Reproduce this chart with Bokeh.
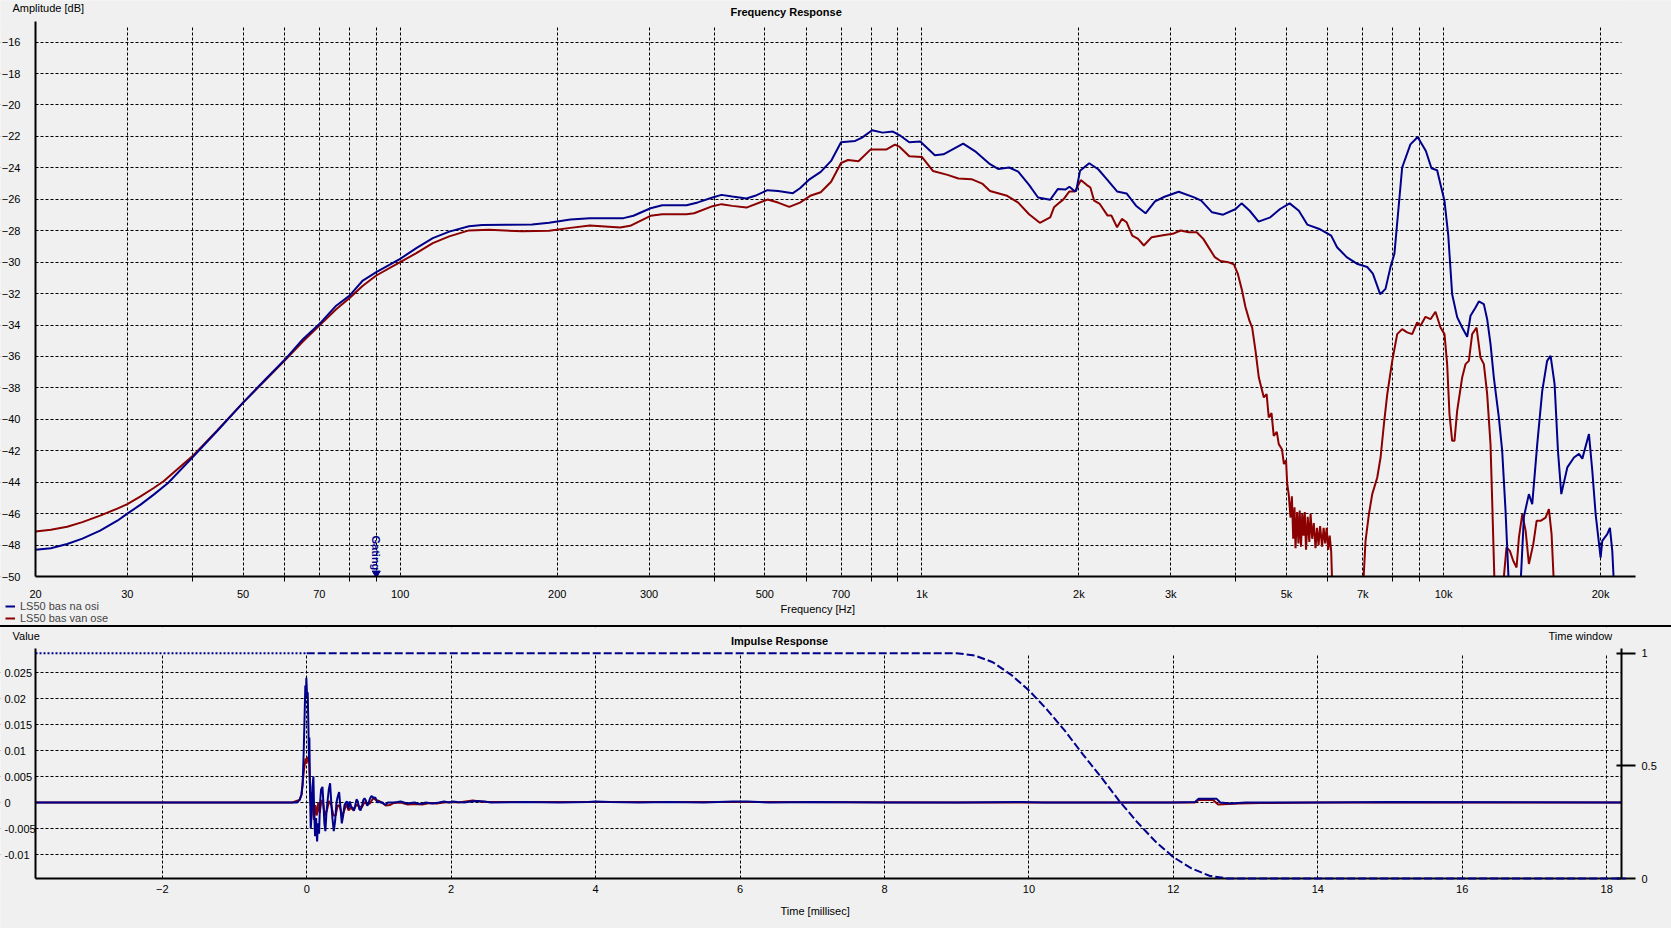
import math
from bokeh.plotting import figure
from bokeh.layouts import column
from bokeh.models import (Range1d, LinearAxis, FixedTicker, Label, Legend, LegendItem,
                          Spacer, CustomJSTickFormatter, BoxAnnotation)
from bokeh.embed import file_html
from bokeh.resources import INLINE

# ---------------- data ----------------
# Frequency response, (Hz, dB)
fr_blue = [
    (20, -48.3), (21.4, -48.2), (23, -47.93), (24.6, -47.59), (26.6, -47.08), (28.7, -46.45),
    (30, -46.0), (31.8, -45.43), (33.7, -44.79), (35.9, -44.05), (40, -42.42), (44.6, -40.74),
    (50, -38.94), (55.2, -37.45), (60, -36.23), (65.1, -34.9), (70, -33.94), (75.4, -32.77),
    (80, -32.13), (84.8, -31.17), (90, -30.64), (100, -29.79), (107.4, -29.11), (115.5, -28.47),
    (124.2, -28.06), (135.5, -27.72), (143.7, -27.64), (160, -27.62), (179, -27.6), (193, -27.5),
    (212, -27.29), (231, -27.2), (268, -27.2), (280, -27.05), (302, -26.57), (318, -26.38),
    (354, -26.38), (372, -26.2), (397, -25.89), (413, -25.72), (433, -25.83), (461, -25.95),
    (479, -25.78), (506, -25.42), (530, -25.47), (566, -25.61), (584, -25.3), (607, -24.77),
    (640, -24.26), (670, -23.56), (700, -22.37), (745, -22.29), (768, -22.08), (803, -21.61),
    (841, -21.76), (880, -21.69), (907, -21.93), (946, -22.37), (993, -22.33), (1059, -23.2),
    (1100, -23.14), (1200, -22.46), (1270, -22.99), (1351, -23.77), (1400, -24.07), (1471, -23.98),
    (1530, -24.24), (1605, -25.08), (1670, -25.89), (1762, -26.03), (1822, -25.35), (1885, -25.38),
    (1918, -25.2), (1958, -25.46), (1976, -25.47), (2010, -24.19), (2093, -23.71), (2178, -24.09),
    (2270, -24.78), (2367, -25.5), (2468, -25.63), (2573, -26.41), (2684, -26.89), (2798, -26.13),
    (2918, -25.84), (3107, -25.52), (3326, -25.88), (3432, -26.09), (3600, -26.83), (3780, -26.98),
    (3995, -26.62), (4100, -26.26), (4250, -26.73), (4420, -27.42), (4655, -27.15), (4860, -26.62),
    (5070, -26.26), (5280, -26.73), (5480, -27.61), (5780, -27.89), (6090, -28.31), (6250, -29.05),
    (6520, -29.68), (6820, -30.1), (7140, -30.31), (7320, -30.73), (7560, -32.04), (7740, -31.7),
    (7913, -30.3), (8050, -29.47), (8330, -23.98), (8640, -22.51), (8920, -22.04), (9250, -22.93),
    (9480, -24.03), (9720, -24.15), (10040, -26.09), (10210, -28.3), (10387, -32.04), (10619, -33.5),
    (10856, -34.16), (11099, -34.75), (11264, -33.41), (11516, -32.88), (11684, -32.5), (11946, -32.67),
    (12123, -33.63), (12303, -35.2), (12485, -37.34), (12764, -39.88), (12953, -42.0), (13146, -45.8),
    (13440, -53.0), (13900, -53.0), (14048, -50.5), (14256, -46.2), (14574, -44.76), (14790, -45.4),
    (15121, -41.58), (15459, -38.19), (15794, -36.28), (16040, -35.96), (16325, -37.76), (16568, -42.0),
    (16815, -44.76), (17267, -43.06), (17783, -42.43), (18180, -42.2), (18450, -42.5), (18998, -40.94),
    (19280, -43.27), (19566, -46.03), (20000, -48.8), (20148, -47.73), (20596, -47.3), (20840, -46.9),
    (21057, -48.37), (21212, -50.5),
]
fr_red = [
    (20, -47.13), (21.4, -47.02), (23, -46.83), (24.6, -46.54), (26.6, -46.13), (28.7, -45.68),
    (30, -45.39), (31.8, -44.9), (33.7, -44.37), (35.2, -43.94), (40, -42.34), (44.6, -40.7),
    (50, -38.94), (55.2, -37.5), (60, -36.28), (65.1, -35.05), (70, -34.04), (75.4, -33.0),
    (80, -32.28), (84.8, -31.5), (90, -30.85), (100, -30.0), (107.4, -29.43), (115.5, -28.79),
    (124.2, -28.36), (135.5, -27.98), (148, -27.94), (171, -28.04), (193, -28.0), (212, -27.82),
    (231, -27.67), (264, -27.8), (276, -27.69), (302, -27.05), (318, -26.95), (354, -26.95),
    (366, -26.89), (397, -26.44), (413, -26.31), (433, -26.42), (461, -26.53), (506, -26.02),
    (530, -26.21), (557, -26.48), (584, -26.21), (611, -25.78), (640, -25.55), (670, -24.89),
    (700, -23.69), (722, -23.5), (756, -23.58), (797, -22.84), (854, -22.84), (888, -22.52),
    (907, -22.67), (946, -23.26), (1000, -23.31), (1050, -24.2), (1120, -24.45), (1175, -24.68),
    (1245, -24.72), (1305, -25.0), (1351, -25.47), (1457, -25.78), (1530, -26.21), (1605, -26.95),
    (1683, -27.5), (1762, -27.15), (1792, -26.51), (1822, -26.3), (1870, -25.99), (1918, -25.5),
    (1967, -25.5), (2017, -24.78), (2069, -25.08), (2104, -25.25), (2139, -26.09), (2193, -26.3),
    (2270, -27.04), (2309, -27.04), (2367, -27.78), (2418, -27.25), (2468, -27.46), (2531, -28.31),
    (2597, -28.52), (2664, -28.94), (2758, -28.41), (2918, -28.27), (3026, -28.2), (3134, -27.99),
    (3248, -28.1), (3364, -28.1), (3463, -28.52), (3553, -29.11), (3643, -29.68), (3737, -29.93),
    (3864, -30.0), (3964, -30.14), (4032, -30.73), (4108, -31.79), (4170, -32.84), (4242, -33.69),
    (4297, -34.16), (4361, -35.64), (4425, -37.34), (4524, -38.61), (4580, -38.4), (4623, -39.88),
    (4680, -39.6), (4726, -41.05), (4790, -40.8), (4832, -41.58), (4900, -41.9), (4943, -42.85),
    (4990, -42.6), (5015, -44.1), (5050, -44.8), (5089, -46.25), (5120, -44.9), (5150, -47.6),
    (5180, -45.6), (5203, -48.2), (5240, -45.9), (5270, -47.9), (5300, -45.8), (5330, -48.1),
    (5360, -46.0), (5390, -47.4), (5420, -45.9), (5450, -48.3), (5490, -46.2), (5530, -47.8),
    (5560, -46.0), (5600, -47.6), (5640, -46.6), (5683, -48.2), (5720, -46.9), (5760, -48.0),
    (5800, -46.8), (5850, -48.1), (5890, -46.9), (5930, -47.9), (5970, -46.9), (6010, -48.3),
    (6050, -47.4), (6090, -48.4), (6117, -50.5), (6250, -54.0), (6900, -54.0), (7016, -50.5),
    (7087, -47.73), (7193, -46.03), (7300, -44.76), (7463, -43.7), (7573, -42.43), (7686, -40.3),
    (7800, -38.4), (7974, -36.28), (8150, -34.58), (8330, -34.26), (8515, -34.47), (8706, -34.58),
    (8900, -33.84), (9032, -34.05), (9233, -33.48), (9440, -33.63), (9650, -33.16), (9867, -34.16),
    (10042, -34.58), (10160, -36.49), (10265, -39.67), (10387, -41.37), (10494, -41.37), (10619, -39.46),
    (10856, -37.34), (11018, -36.49), (11181, -36.28), (11347, -34.58), (11568, -34.16), (11770, -36.07),
    (11946, -36.49), (12123, -38.4), (12303, -41.58), (12394, -45.19), (12524, -50.5), (12700, -54.0),
    (12850, -54.0), (13011, -50.5), (13203, -48.15), (13400, -48.37), (13600, -49.0), (13802, -49.43),
    (13946, -47.52), (14155, -46.03), (14366, -47.1), (14574, -49.2), (14859, -47.94), (15079, -46.46),
    (15346, -46.46), (15689, -46.25), (15920, -45.72), (16108, -47.3), (16275, -50.5), (16450, -54.0),
]
freq_labeled_ticks = [20, 30, 50, 70, 100, 200, 300, 500, 700, 1000, 2000, 3000, 5000, 7000, 10000, 20000]
freq_unlabeled_ticks = [40, 60, 80, 90, 400, 600, 800, 900, 4000, 6000, 8000, 9000]
db_ticks = list(range(-50, -15, 2))
gating_freq = 90
series_names = ["LS50 bas na osi", "LS50 bas van ose"]

# Impulse response, (ms, value)
ir_blue = [
    (-3.755, 0), (-0.134, 0), (-0.097, 0.0005), (-0.074, 0.0015), (-0.056, 0.0035), (-0.042, 0.0095),
    (-0.028, 0.0172), (-0.019, 0.0225), (-0.009, 0.021), (-0.005, 0.024), (0.005, 0.0205), (0.014, 0.0212),
    (0.023, 0.015), (0.032, 0.008), (0.037, 0.0125), (0.046, 0.002), (0.056, -0.005), (0.065, -0.003),
    (0.079, 0.003), (0.093, 0.005), (0.102, -0.001), (0.116, -0.0065), (0.130, -0.003), (0.144, -0.0075),
    (0.157, -0.004), (0.171, -0.006), (0.185, 0.0), (0.199, 0.0025), (0.218, 0.003), (0.231, 0.0),
    (0.245, -0.004), (0.259, -0.0055), (0.273, -0.002), (0.287, 0.0), (0.306, 0.0025), (0.324, 0.0037),
    (0.338, 0.0005), (0.356, -0.003), (0.375, -0.0055), (0.394, -0.0035), (0.412, 0.0), (0.431, 0.0012),
    (0.449, 0.002), (0.468, -0.001), (0.486, -0.004), (0.505, -0.0025), (0.523, -0.0005), (0.542, 0.0),
    (0.560, 0.0002), (0.579, -0.0012), (0.597, 0.0002), (0.616, -0.0008), (0.634, -0.001), (0.653, -0.0016),
    (0.671, -0.0006), (0.690, 0.0006), (0.708, 0.0002), (0.727, -0.0012), (0.745, -0.0015), (0.764, -0.0008),
    (0.782, 0.0004), (0.801, 0.0008), (0.819, 0.0004), (0.838, -0.0006), (0.856, -0.0002), (0.875, 0.0007),
    (0.894, 0.0012), (0.912, 0.0011), (0.931, 0.0008), (0.949, 0.001), (0.968, 0.0003), (0.986, 0.0),
    (1.005, 0.0002), (1.023, 0.0), (1.051, 0.0), (1.079, -0.0004), (1.097, -0.0004), (1.125, 0.0),
    (1.162, 0.0), (1.208, 0.0), (1.255, 0.0001), (1.301, 0.0002), (1.347, 0.0), (1.394, -0.0002),
    (1.440, -0.0001), (1.495, 0.0), (1.532, -0.0002), (1.569, -0.0003), (1.606, -0.0002), (1.648, 0.0),
    (1.694, -0.0001), (1.741, -0.0002), (1.787, -0.0001), (1.833, 0.0), (1.903, 0.0002), (1.972, 0.0),
    (2.019, 0.0002), (2.088, 0.0001), (2.181, 0.0), (2.273, 0.0002), (2.366, 0.0003), (2.458, 0.0002),
    (2.551, 0.0), (3.0, 0.0001), (3.5, 0.0), (3.9, 0.0001), (4.0, 0.0002), (4.2, 0.0001), (4.6, 0.0),
    (5.0, 0.0001), (5.5, 0.0), (5.9, 0.0002), (6.1, 0.0002), (6.4, 0.0), (7.0, 0.0001), (8.0, 0.0),
    (9.0, 0.0), (9.9, 0.0001), (10.2, 0.0), (11.0, 0.0), (12.0, 0.0), (12.3, 0.0001), (12.35, 0.0007),
    (12.6, 0.0007), (12.65, 0.0), (12.8, -0.0002), (13.0, 0.0), (14.0, 0.0), (15.0, 0.0001), (18.263, 0.0),
]
ir_red = [
    (-3.755, 0), (-0.2, 0), (-0.10, 0.0005), (-0.07, 0.0015), (-0.055, 0.004), (-0.035, 0.0065),
    (-0.015, 0.0085), (0.0, 0.0075), (0.01, 0.0088), (0.02, 0.008), (0.03, 0.0085), (0.045, 0.0035),
    (0.06, -0.001), (0.075, 0.002), (0.09, -0.002), (0.10, -0.0033), (0.12, -0.0005), (0.14, -0.0025),
    (0.16, 0.0), (0.18, -0.002), (0.20, 0.0), (0.22, 0.0005), (0.25, -0.0025), (0.28, -0.0015),
    (0.31, 0.0003), (0.34, -0.0005), (0.37, -0.0025), (0.40, -0.0025), (0.43, -0.0005), (0.46, -0.0008),
    (0.49, -0.0027), (0.52, -0.0015), (0.55, -0.0003), (0.58, -0.0015), (0.61, -0.001), (0.65, -0.0015),
    (0.69, -0.0004), (0.73, -0.0008), (0.77, -0.0008), (0.80, 0.0001), (0.84, -0.0004), (0.88, -0.0001),
    (0.92, 0.0008), (0.96, 0.0005), (1.0, 0.0003), (1.05, -0.0001), (1.1, -0.0006), (1.15, -0.0005),
    (1.2, -0.0001), (1.3, 0.0), (1.4, -0.0004), (1.5, -0.0003), (1.6, -0.0004), (1.7, -0.0001),
    (1.8, -0.0002), (1.9, 0.0), (2.0, 0.0001), (2.1, 0.0), (2.2, 0.0002), (2.3, 0.0004), (2.4, 0.0002),
    (2.5, 0.0001), (3.0, 0.0001), (4.0, 0.0001), (6.0, 0.0001), (9.0, 0.0), (12.3, 0.0),
    (12.35, 0.0005), (12.55, 0.0005), (12.62, -0.0004), (12.9, -0.0002), (13.2, -0.0001), (14.0, 0.0),
    (18.263, 0.0),
]
# time window (0..1, right axis)
window_pre = [(-3.755, 1.0), (0.0, 1.0)]
window_main = [
    (0.0, 1.0), (9.0, 1.0), (9.25, 0.99), (9.5, 0.96), (9.75, 0.905), (10.0, 0.835), (10.25, 0.75),
    (10.5, 0.655), (10.75, 0.55), (11.0, 0.45), (11.25, 0.345), (11.5, 0.25), (11.75, 0.165),
    (12.0, 0.095), (12.25, 0.045), (12.5, 0.012), (12.75, 0.0), (18.263, 0.0),
]
time_ticks = [-2, 0, 2, 4, 6, 8, 10, 12, 14, 16, 18]
value_ticks = [0.025, 0.02, 0.015, 0.01, 0.005, 0, -0.005, -0.01]
value_tick_labels = ["0.025", "0.02", "0.015", "0.01", "0.005", "0", "-0.005", "-0.01"]
window_ticks = [0, 0.5, 1]

# ---------------- style ----------------
BLUE = "#00008b"
RED = "#8b0000"
BG = "#f0f0f0"
FONT = "Liberation Sans"
FS = "11px"
W = 1671
H1 = 625          # top figure, page rows 0..625
TOP2 = 627        # bottom figure starts here (2px separator between)
H2 = 301


def unzip(pairs):
    return [a for a, _ in pairs], [b for _, b in pairs]


# page pixel -> data helpers (layout only)
def fx(px):
    return 20 * 10 ** ((px - 35) / 521.7)


def fy(py):
    return -50 + (576 - py) / 15.718


def tx(px):
    return (px - 306.2) / 72.22


def vy(py):
    return (802 - py) / 5200.0


def wy(py):
    return (878 - py) / 225.3


def style_axis(ax):
    ax.axis_line_color = "black"
    ax.axis_line_width = 2
    ax.major_tick_line_color = "black"
    ax.major_tick_in = 0
    ax.major_tick_out = 0
    ax.minor_tick_line_color = None
    ax.major_label_text_font = FONT
    ax.major_label_text_font_size = FS
    ax.major_label_text_color = "black"


def txt(p, x, y, s, bold=False, align="left", color="black", angle=0.0):
    p.add_layout(Label(x=x, y=y, text=s, text_font=FONT, text_font_size=FS,
                       text_font_style="bold" if bold else "normal", text_color=color,
                       text_align=align, text_baseline="middle", angle=angle))


def mask(p, **kw):
    p.add_layout(BoxAnnotation(fill_color=BG, fill_alpha=1.0, line_color=None,
                               level="glyph", **kw))


def grid_style(g):
    g.grid_line_color = "black"
    g.grid_line_width = 1
    g.grid_line_dash = "3 2"


# ---------------- top: frequency response ----------------
p1 = figure(width=W, height=H1, x_axis_type="log",
            x_range=Range1d(fx(0), fx(W)), y_range=Range1d(fy(H1), fy(0)),
            output_backend="svg", toolbar_location=None,
            min_border_left=0, min_border_right=0, min_border_top=0, min_border_bottom=0,
            background_fill_color=BG, border_fill_color=BG, outline_line_color=None)

fticker = FixedTicker(ticks=freq_labeled_ticks, minor_ticks=freq_unlabeled_ticks)
xa = p1.xaxis[0]
xa.ticker = fticker
xa.formatter = CustomJSTickFormatter(code="return tick >= 1000 ? (tick/1000) + 'k' : String(tick);")
style_axis(xa)
xa.minor_tick_line_color = "black"
xa.minor_tick_in = 0
xa.minor_tick_out = 5
xa.major_label_standoff = 6
xa.fixed_location = -50
xa.bounds = (20, fx(1635))
p1.xgrid.ticker = fticker

dticker = FixedTicker(ticks=db_ticks)
ya = p1.yaxis[0]
ya.ticker = dticker
style_axis(ya)
ya.major_label_standoff = 15
ya.fixed_location = 20
ya.bounds = (-50, fy(21))
p1.ygrid.ticker = dticker

grid_style(p1.xgrid[0])
grid_style(p1.ygrid[0])
p1.xgrid[0].minor_grid_line_color = "black"
p1.xgrid[0].minor_grid_line_dash = "3 2"

rf, rdb = unzip(fr_red)
bf, bdb = unzip(fr_blue)
r_red = p1.line(rf, rdb, line_color=RED, line_width=2)
r_blue = p1.line(bf, bdb, line_color=BLUE, line_width=2)
p1.scatter([gating_freq], [-49.8], marker="inverted_triangle", size=8,
           fill_color=BLUE, line_color=BLUE)

# hide grid / curves outside the plotting rectangle
mask(p1, bottom=fy(26.5))
mask(p1, top=-50)
mask(p1, right=20)
mask(p1, left=fx(1621))

txt(p1, gating_freq, fy(535), "Gating", bold=True, color=BLUE, angle=-math.pi / 2)

legend = Legend(items=[LegendItem(label=series_names[0], renderers=[r_blue]),
                       LegendItem(label=series_names[1], renderers=[r_red])],
                location=(5, 1), orientation="vertical",
                padding=0, margin=0, spacing=0, glyph_width=10, glyph_height=12,
                label_height=12, label_standoff=5, label_text_font=FONT,
                label_text_font_size=FS, border_line_color=None, background_fill_alpha=0)
p1.add_layout(legend)

txt(p1, fx(12), fy(7.5), "Amplitude [dB]")
txt(p1, fx(730), fy(11.5), "Frequency Response", bold=True)
txt(p1, fx(780), fy(608.3), "Frequency [Hz]")

# ---------------- separator ----------------
sep = Spacer(width=W, height=TOP2 - H1, styles={"background-color": "black"})

# ---------------- bottom: impulse response ----------------
p2 = figure(width=W, height=H2,
            x_range=Range1d(tx(0), tx(W)), y_range=Range1d(vy(TOP2 + H2), vy(TOP2)),
            output_backend="svg", toolbar_location=None,
            min_border_left=0, min_border_right=0, min_border_top=0, min_border_bottom=0,
            background_fill_color=BG, border_fill_color=BG, outline_line_color=None)
p2.extra_y_ranges = {"win": Range1d(wy(TOP2 + H2), wy(TOP2))}

tticker = FixedTicker(ticks=time_ticks)
xb = p2.xaxis[0]
xb.ticker = tticker
style_axis(xb)
xb.major_label_standoff = 6
xb.fixed_location = vy(878)
xb.bounds = (tx(35), tx(1621))
p2.xgrid.ticker = tticker

vticker = FixedTicker(ticks=value_ticks)
yb = p2.yaxis[0]
yb.ticker = vticker
yb.formatter = CustomJSTickFormatter(code="return '';")
style_axis(yb)
yb.major_label_standoff = 0
yb.fixed_location = tx(35)
yb.bounds = (vy(878), vy(648))
p2.ygrid.ticker = vticker

grid_style(p2.xgrid[0])
grid_style(p2.ygrid[0])

ra = LinearAxis(y_range_name="win", ticker=FixedTicker(ticks=window_ticks))
style_axis(ra)
ra.major_tick_line_width = 2
ra.major_tick_in = 5
ra.major_tick_out = 14
ra.major_label_standoff = 6
ra.fixed_location = tx(1621)
ra.bounds = (0, wy(648))
p2.add_layout(ra, "right")

it, iv = unzip(ir_red)
p2.line(it, iv, line_color=RED, line_width=2)
it, iv = unzip(ir_blue)
p2.line(it, iv, line_color=BLUE, line_width=2)

mask(p2, bottom=vy(654))
mask(p2, top=vy(878))
mask(p2, right=tx(35))
mask(p2, left=tx(1621))

wt, wv = unzip(window_pre)
p2.line(wt, wv, y_range_name="win", line_color=BLUE, line_width=2, line_dash="2 2", level="annotation")
wt, wv = unzip(window_main)
p2.line(wt, wv, y_range_name="win", line_color=BLUE, line_width=2, line_dash="8 3", level="annotation")

for v, lab in zip(value_ticks, value_tick_labels):
    txt(p2, tx(4), v, lab)

txt(p2, tx(12), vy(635), "Value")
txt(p2, tx(730.5), vy(640), "Impulse Response", bold=True)
txt(p2, tx(1548), vy(635), "Time window")
txt(p2, tx(780), vy(910), "Time [millisec]")

layout = column(p1, sep, p2, spacing=0)
open("out.html", "w").write(file_html(layout, INLINE))
